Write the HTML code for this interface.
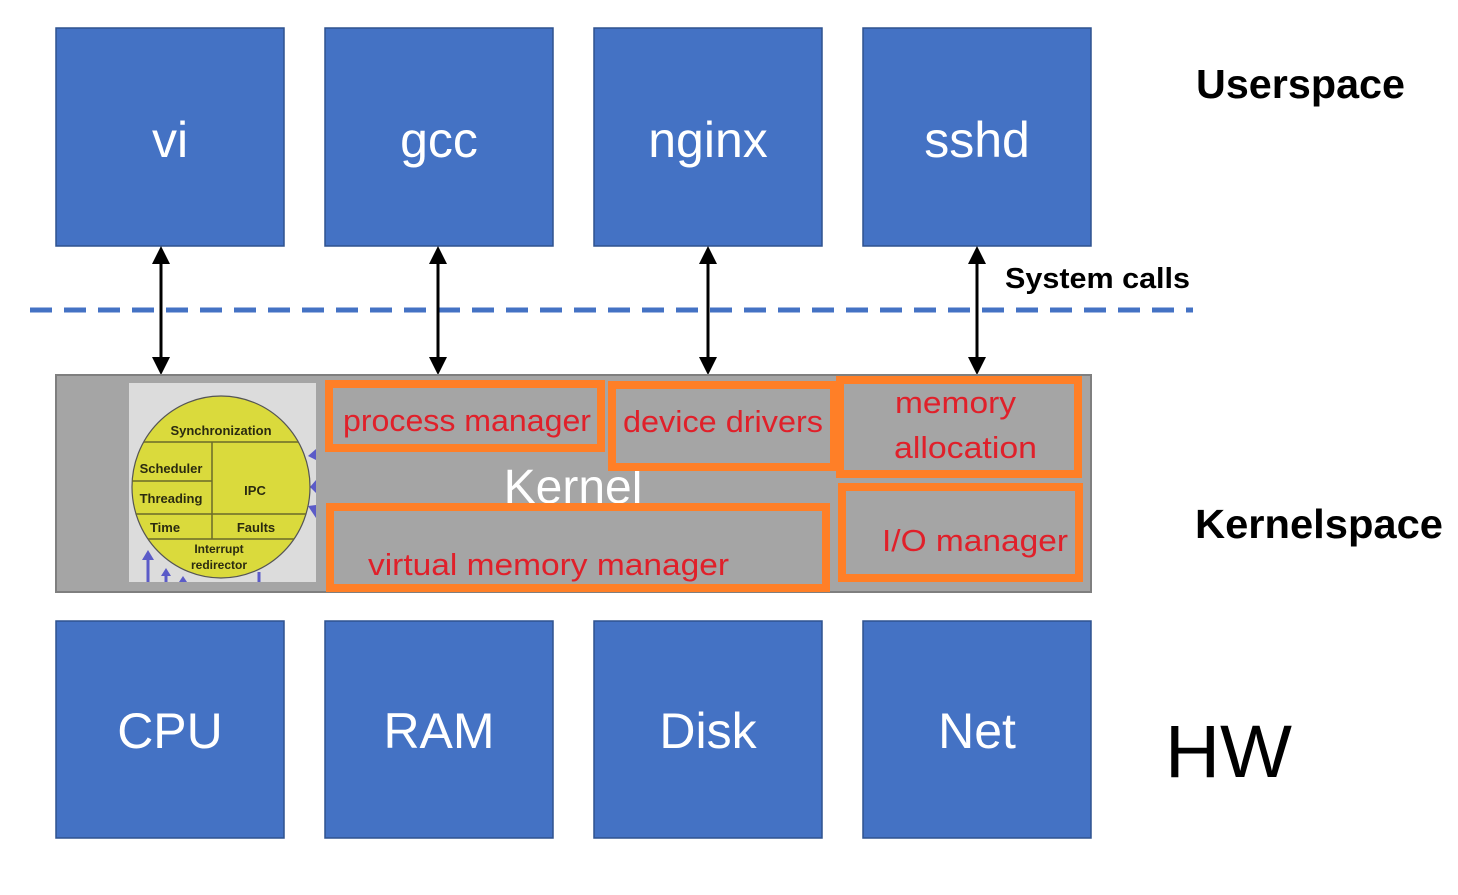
<!DOCTYPE html>
<html><head><meta charset="utf-8"><style>
html,body{margin:0;padding:0;background:#fff;}
svg{display:block;}
text{font-family:"Liberation Sans",sans-serif;}
</style></head><body>
<svg width="1458" height="895" viewBox="0 0 1458 895" xmlns="http://www.w3.org/2000/svg">
<defs>
<marker id="ah" markerWidth="6" markerHeight="6" refX="3" refY="3" orient="auto-start-reverse" markerUnits="strokeWidth">
<path d="M0,0 L6,3 L0,6 z" fill="#000"/></marker>
</defs>
<g fill="#4472C4" stroke="#2F528F" stroke-width="1.5">
<rect x="56" y="28" width="228" height="218"/><rect x="325" y="28" width="228" height="218"/>
<rect x="594" y="28" width="228" height="218"/><rect x="863" y="28" width="228" height="218"/>
<rect x="56" y="621" width="228" height="217"/><rect x="325" y="621" width="228" height="217"/>
<rect x="594" y="621" width="228" height="217"/><rect x="863" y="621" width="228" height="217"/>
</g>
<g fill="#fff" font-size="50" text-anchor="middle">
<text x="170" y="157">vi</text><text x="439" y="157">gcc</text><text x="708" y="157">nginx</text><text x="977" y="157">sshd</text>
<text x="170" y="748">CPU</text><text x="439" y="748">RAM</text><text x="708" y="748">Disk</text><text x="977" y="748">Net</text>
</g>
<line x1="30" y1="310" x2="1193" y2="310" stroke="#4472C4" stroke-width="5" stroke-dasharray="22,12"/>
<g stroke="#000" stroke-width="3" marker-start="url(#ah)" marker-end="url(#ah)">
<line x1="161" y1="255" x2="161" y2="366"/><line x1="438" y1="255" x2="438" y2="366"/>
<line x1="708" y1="255" x2="708" y2="366"/><line x1="977" y1="255" x2="977" y2="366"/>
</g>
<rect x="56" y="375" width="1035" height="217" fill="#A5A5A5" stroke="#7F7F7F" stroke-width="2"/>
<rect x="129" y="383" width="187" height="199" fill="#DCDCDC"/>
<g fill="#5B5BC8" stroke="#5B5BC8" stroke-width="3">
<line x1="148" y1="582" x2="148" y2="558"/><path d="M142,560 L148,550 L154,560z" stroke="none"/>
<line x1="166" y1="582" x2="166" y2="574"/><path d="M161,576 L166,568 L171,576z" stroke="none"/>
<line x1="183" y1="582" x2="183" y2="580"/><path d="M179,582 L183,576 L187,582z" stroke="none"/>
<line x1="259" y1="572" x2="259" y2="582"/>
<path d="M316,449 L308,456 L316,460z" stroke="none"/>
<path d="M316,480 L310,487 L316,493z" stroke="none"/>
<path d="M316,505 L308,506 L316,518z" stroke="none"/>
</g>
<ellipse cx="221" cy="487" rx="89" ry="91" fill="#DADA3C" stroke="#555" stroke-width="1.2"/>
<g stroke="#6B6B2A" stroke-width="1.5">
<line x1="144" y1="442" x2="298" y2="442"/><line x1="212" y1="442" x2="212" y2="539"/>
<line x1="132" y1="481" x2="212" y2="481"/><line x1="136" y1="514" x2="306" y2="514"/>
<line x1="148" y1="539" x2="294" y2="539"/>
</g>
<g fill="#2b2b10" font-size="13" font-weight="bold" text-anchor="middle">
<text x="221" y="435">Synchronization</text><text x="171" y="473">Scheduler</text>
<text x="171" y="503">Threading</text><text x="255" y="495">IPC</text>
<text x="165" y="532">Time</text><text x="256" y="532">Faults</text>
<text x="219" y="553" font-size="12">Interrupt</text><text x="219" y="569" font-size="12">redirector</text>
</g>
<text x="573" y="503" fill="#fff" font-size="48" text-anchor="middle">Kernel</text>
<g fill="#A5A5A5" stroke="#FF7F27" stroke-width="8">
<rect x="329" y="384" width="272" height="64"/>
<rect x="612" y="385" width="222" height="82"/>
<rect x="840" y="380" width="238" height="94"/>
<rect x="842" y="487" width="237" height="91"/>
<rect x="330" y="507" width="496" height="81"/>
</g>
<g fill="#E0202A" font-size="31">
<text x="343" y="431" textLength="248" lengthAdjust="spacingAndGlyphs">process manager</text>
<text x="623" y="432" textLength="200" lengthAdjust="spacingAndGlyphs">device drivers</text>
<text x="895" y="413" textLength="121" lengthAdjust="spacingAndGlyphs">memory</text>
<text x="894" y="458" textLength="143" lengthAdjust="spacingAndGlyphs">allocation</text>
<text x="882" y="551" textLength="186" lengthAdjust="spacingAndGlyphs">I/O manager</text>
<text x="368" y="575" textLength="361" lengthAdjust="spacingAndGlyphs">virtual memory manager</text>
</g>
<g fill="#000" font-weight="bold">
<text x="1196" y="98" font-size="41" textLength="209" lengthAdjust="spacingAndGlyphs">Userspace</text>
<text x="1005" y="288" font-size="29" textLength="185" lengthAdjust="spacingAndGlyphs">System calls</text>
<text x="1195" y="538" font-size="41" textLength="248" lengthAdjust="spacingAndGlyphs">Kernelspace</text>
</g>
<text x="1165" y="777" font-size="74" fill="#000" textLength="127" lengthAdjust="spacingAndGlyphs">HW</text>
</svg>
</body></html>
